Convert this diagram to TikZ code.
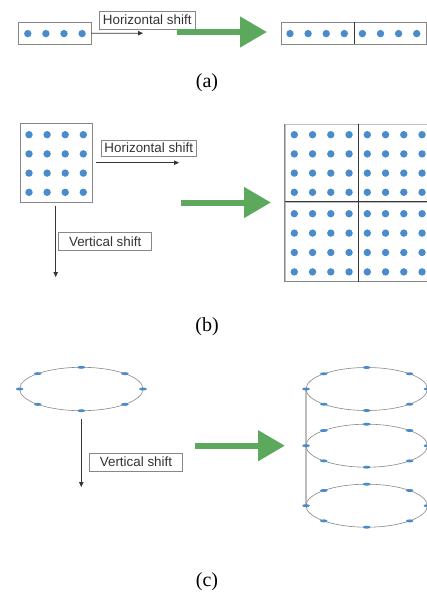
\documentclass[tikz,border=0pt]{standalone}
\usepackage{fontspec}
\setmainfont{Liberation Serif}
\newfontfamily\sansf{Liberation Sans}
\usetikzlibrary{arrows.meta}
\definecolor{dotblue}{RGB}{74,139,203}
\definecolor{bigarrow}{RGB}{92,168,92}
\definecolor{boxgray}{RGB}{135,135,135}
\definecolor{lightgray}{RGB}{190,190,190}
\definecolor{linedark}{RGB}{55,55,55}
\begin{document}
\begin{tikzpicture}[x=1pt,y=-1pt,
  dotbox/.style={draw=boxgray, line width=0.9pt, inner sep=0pt},
  lbl/.style={draw=boxgray, line width=0.7pt, fill=white, inner sep=0pt,
    font=\sansf\fontsize{13.4}{14}\selectfont, text=black!80},
  shiftarrow/.style={draw=linedark, line width=0.8pt, -{Triangle[length=5pt,width=4.5pt]}},
  greenarrow/.style={draw=bigarrow, line width=6pt, -{Triangle[length=27pt,width=29.5pt]}},
  captext/.style={font=\fontsize{20}{22}\selectfont},
  ring/.style={draw=boxgray, line width=0.6pt},
  marker/.style={fill=dotblue}
]
\useasboundingbox (0,0) rectangle (427,594);

% ---------------- (a) ----------------
\node[dotbox, minimum width=72.7, minimum height=21.7] (a1) at (54.65,33.15) {};
\foreach \i in {0,...,3} \fill[dotblue] (27.8+18.1*\i,33.6) circle (3.7);
\coordinate (a1end) at (143,33.2);
\draw[shiftarrow] (a1.east) -- (a1end);
\node[lbl, minimum width=95.7, minimum height=17.7] (ha) at (147.2,20.2) {Horizontal shift};
\coordinate (gas) at (177,32);
\coordinate (gae) at (267,32);
\draw[greenarrow] (gas) -- (gae);
\node[dotbox, minimum width=72.4, minimum height=21.7] (a2) at (317.9,33.15) {};
\node[dotbox, minimum width=72.4, minimum height=21.7] (a3) at (390.3,33.15) {};
\draw[linedark, line width=0.9pt] (a2.north east) -- (a2.south east);
\foreach \i in {0,...,7} \fill[dotblue] (290+18.1*\i,33.6) circle (3.7);
\node[captext] (capa) at (207,83) {(a)};

% ---------------- (b) ----------------
\node[dotbox, minimum width=72.3, minimum height=79] (b1) at (56.15,162.8) {};
\foreach \i in {0,...,3} \foreach \j in {0,...,3}
  \fill[dotblue] (29+18.1*\i,134.7+19.2*\j) circle (3.7);
\coordinate (bhs) at (95.7,162.7);
\coordinate (bhe) at (179,162.7);
\draw[shiftarrow] (bhs) -- (bhe);
\node[lbl, minimum width=95.7, minimum height=16] (hb) at (148.8,148) {Horizontal shift};
\coordinate (bvs) at (55.7,206);
\coordinate (bve) at (55.7,277);
\draw[shiftarrow] (bvs) -- (bve);
\node[lbl, minimum width=93, minimum height=17.3] (vb) at (105.2,241.3) {Vertical shift};
\coordinate (gbs) at (180.7,202.5);
\coordinate (gbe) at (271,202.5);
\draw[greenarrow] (gbs) -- (gbe);
% 2x2 grid
\node[dotbox, draw=lightgray, minimum width=73, minimum height=78.3] (g1) at (321.8,163.15) {};
\node[dotbox, draw=lightgray, minimum width=73, minimum height=78.3] (g2) at (394.8,163.15) {};
\node[dotbox, draw=lightgray, minimum width=73, minimum height=79] (g3) at (321.8,241.8) {};
\node[dotbox, draw=lightgray, minimum width=73, minimum height=79] (g4) at (394.8,241.8) {};
\draw[boxgray, line width=0.9pt] (g1.north west) -- (g3.south west) -- (g4.south east);
\draw[linedark, line width=0.9pt] (g1.north east) -- (g3.south east);
\draw[linedark, line width=0.9pt] (g3.north west) -- (g4.north east);
\foreach \i in {0,...,7} \foreach \j in {0,...,3} {
  \fill[dotblue] (294.3+18.25*\i,134.7+19.2*\j) circle (3.7);
  \fill[dotblue] (294.3+18.25*\i,213.7+19.4*\j) circle (3.7);
}
\node[captext] (capb) at (207,327) {(b)};

% ---------------- (c) ----------------
\draw[ring] (81.3,389) ellipse [x radius=61.7, y radius=21.7];
\foreach \a in {0,45,...,315}
  \fill[marker] ({81.3+61.7*cos(\a)},{389+21.7*sin(\a)}) ellipse [x radius=3.8, y radius=1.5];
\coordinate (cvs) at (81.3,419);
\coordinate (cve) at (81.3,487);
\draw[shiftarrow] (cvs) -- (cve);
\node[lbl, minimum width=93.4, minimum height=17.7] (vc) at (136,462.2) {Vertical shift};
\coordinate (gcs) at (195,445.7);
\coordinate (gce) at (285,445.7);
\draw[greenarrow] (gcs) -- (gce);
\coordinate (r1) at (306,389);
\coordinate (r3) at (306,505.7);
\draw[lightgray, line width=1.4pt] (r1) -- (r3);
\foreach \cy in {389,445.7,505.7} {
  \draw[ring] (366.7,\cy) ellipse [x radius=60.7, y radius=21.5];
  \foreach \a in {0,45,...,315}
    \fill[marker] ({366.7+60.7*cos(\a)},{\cy+21.5*sin(\a)}) ellipse [x radius=3.8, y radius=1.5];
}
\node[captext] (capc) at (207,582) {(c)};
\end{tikzpicture}
\end{document}
